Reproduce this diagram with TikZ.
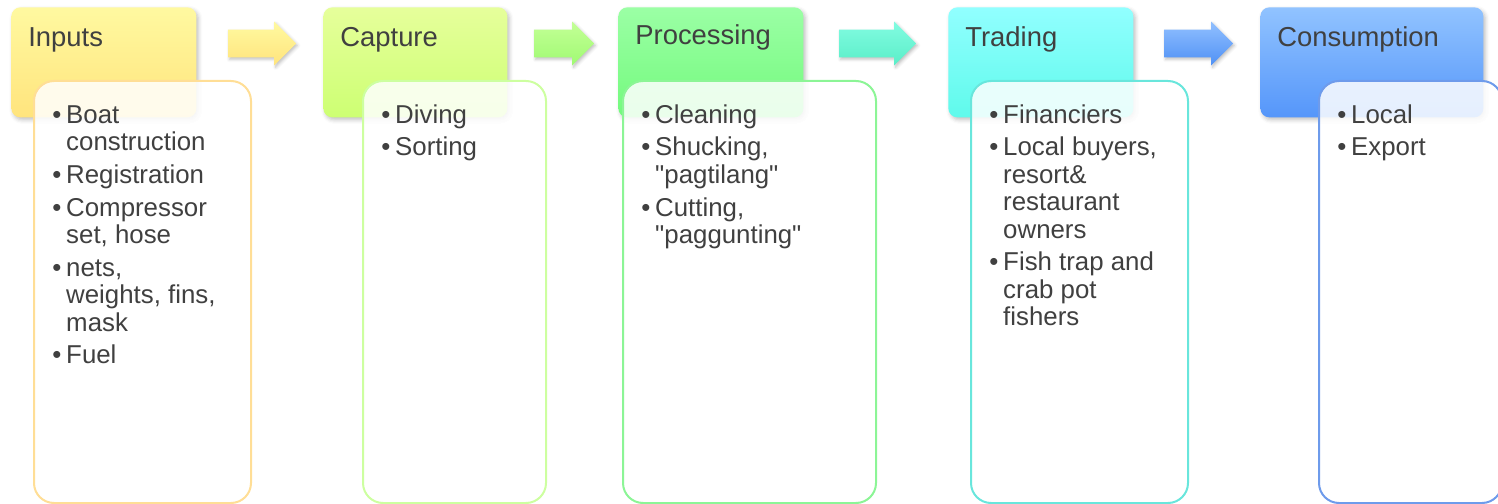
\documentclass[tikz,border=0pt]{standalone}
\usepackage{fontspec}
\setmainfont{Liberation Sans}[Ligatures=TeXOff]
\usepackage{tikz}
\usetikzlibrary{calc, positioning, shapes.arrows, shadows.blur}

% Colores de las etapas
\definecolor{texto}{RGB}{64,64,64}
\definecolor{inputsTop}{RGB}{255,249,160}
\definecolor{inputsBot}{RGB}{255,228,125}
\definecolor{inputsLine}{RGB}{255,222,150}
\definecolor{captureTop}{RGB}{230,255,155}
\definecolor{captureBot}{RGB}{205,255,115}
\definecolor{captureLine}{RGB}{205,255,160}
\definecolor{procTop}{RGB}{155,255,165}
\definecolor{procBot}{RGB}{115,250,125}
\definecolor{procLine}{RGB}{140,245,150}
\definecolor{tradTop}{RGB}{145,255,255}
\definecolor{tradBot}{RGB}{95,250,235}
\definecolor{tradLine}{RGB}{105,230,220}
\definecolor{consTop}{RGB}{145,195,255}
\definecolor{consBot}{RGB}{85,150,250}
\definecolor{consLine}{RGB}{110,155,235}

% Viñeta con sangría francesa
\newcommand{\pitem}[1]{\hangindent=7.9pt\hangafter=1\noindent\makebox[7.9pt][l]{\textbullet}\strut#1\par\vspace{3pt}}

\begin{document}
\begin{tikzpicture}
          % Definición de estilos
          \tikzstyle{head} = [rectangle, rounded corners=0.18cm, anchor=north west, inner sep=0pt, minimum height=2.2cm, blur shadow={shadow xshift=0.04cm, shadow yshift=-0.05cm, shadow blur radius=0.08cm, shadow opacity=25}]
          \tikzstyle{listbox} = [rectangle, rounded corners=0.4cm, anchor=north west, draw, line width=0.04cm, fill=white, fill opacity=0.85, minimum height=8.44cm, inner sep=0pt]
          \tikzstyle{stagearrow} = [single arrow, anchor=tail, single arrow head extend=0.16cm, inner xsep=0pt, inner ysep=0.27cm, blur shadow={shadow xshift=0.03cm, shadow yshift=-0.04cm, shadow blur radius=0.06cm, shadow opacity=25}]
          \tikzstyle{stagetitle} = [anchor=base west, inner sep=0pt, text=texto, font=\fontsize{15.6}{18}\selectfont]
          \tikzstyle{stageitems} = [anchor=north west, inner sep=0pt, align=flush left, text=texto, font=\fontsize{14.7}{15.6}\selectfont]

          \useasboundingbox (0,0) rectangle (29.96,-10.08);

          % Cabeceras
          \node [head, minimum width=3.70cm, top color=inputsTop, bottom color=inputsBot] (inputs) at (0.22,-0.14) {};
          \node [head, minimum width=3.68cm, top color=captureTop, bottom color=captureBot] (capture) at (6.46,-0.14) {};
          \node [head, minimum width=3.70cm, top color=procTop, bottom color=procBot] (processing) at (12.36,-0.14) {};
          \node [head, minimum width=3.70cm, top color=tradTop, bottom color=tradBot] (trading) at (18.96,-0.14) {};
          \node [head, minimum width=4.46cm, top color=consTop, bottom color=consBot] (consumption) at (25.20,-0.14) {};

          % Flechas entre etapas
          \node [stagearrow, minimum height=1.36cm, top color=inputsTop, bottom color=inputsBot] (arr1) at ($(inputs.north east)+(0.62,-0.73)$) {};
          \node [stagearrow, minimum height=1.20cm, top color={rgb,255:red,195;green,255;blue,150}, bottom color={rgb,255:red,160;green,250;blue,115}] (arr2) at ($(capture.north east)+(0.52,-0.73)$) {};
          \node [stagearrow, minimum height=1.54cm, top color={rgb,255:red,130;green,252;blue,225}, bottom color={rgb,255:red,90;green,238;blue,200}] (arr3) at ($(processing.north east)+(0.70,-0.73)$) {};
          \node [stagearrow, minimum height=1.38cm, top color={rgb,255:red,145;green,192;blue,255}, bottom color={rgb,255:red,80;green,145;blue,245}] (arr4) at ($(trading.north east)+(0.60,-0.73)$) {};

          % Recuadros de detalle
          \node [listbox, draw=inputsLine, minimum width=4.34cm] (inputsbox) at (0.66,-1.60) {};
          \node [listbox, draw=captureLine, minimum width=3.66cm] (capturebox) at (7.24,-1.60) {};
          \node [listbox, draw=procLine, minimum width=5.06cm] (processingbox) at (12.44,-1.60) {};
          \node [listbox, draw=tradLine, minimum width=4.34cm] (tradingbox) at (19.40,-1.60) {};
          \node [listbox, draw=consLine, minimum width=3.66cm] (consumptionbox) at (26.36,-1.60) {};

          % Títulos
          \node [stagetitle] (inputstitle) at ($(inputs.north west)+(0.34,-0.80)$) {Inputs};
          \node [stagetitle] (capturetitle) at ($(capture.north west)+(0.34,-0.80)$) {Capture};
          \node [stagetitle] (processingtitle) at ($(processing.north west)+(0.34,-0.76)$) {Processing};
          \node [stagetitle] (tradingtitle) at ($(trading.north west)+(0.34,-0.80)$) {Trading};
          \node [stagetitle] (consumptiontitle) at ($(consumption.north west)+(0.34,-0.80)$) {Consumption};

          % Listas
          \node [stageitems, text width=4.0cm] (inputslist) at ($(inputsbox.north west)+(0.38,-0.475)$) {\pitem{Boat\newline construction}\pitem{Registration}\pitem{Compressor\newline set, hose}\pitem{nets,\newline weights, fins,\newline mask}\pitem{Fuel}};
          \node [stageitems, text width=3.2cm] (capturelist) at ($(capturebox.north west)+(0.38,-0.475)$) {\pitem{Diving}\pitem{Sorting}};
          \node [stageitems, text width=4.4cm] (processinglist) at ($(processingbox.north west)+(0.38,-0.475)$) {\pitem{Cleaning}\pitem{Shucking,\newline "pagtilang"}\pitem{Cutting,\newline "paggunting"}};
          \node [stageitems, text width=3.9cm] (tradinglist) at ($(tradingbox.north west)+(0.38,-0.475)$) {\pitem{Financiers}\pitem{Local buyers,\newline resort\&\newline restaurant\newline owners}\pitem{Fish trap and\newline crab pot\newline fishers}};
          \node [stageitems, text width=3.0cm] (consumptionlist) at ($(consumptionbox.north west)+(0.38,-0.475)$) {\pitem{Local}\pitem{Export}};
\end{tikzpicture}
\end{document}
